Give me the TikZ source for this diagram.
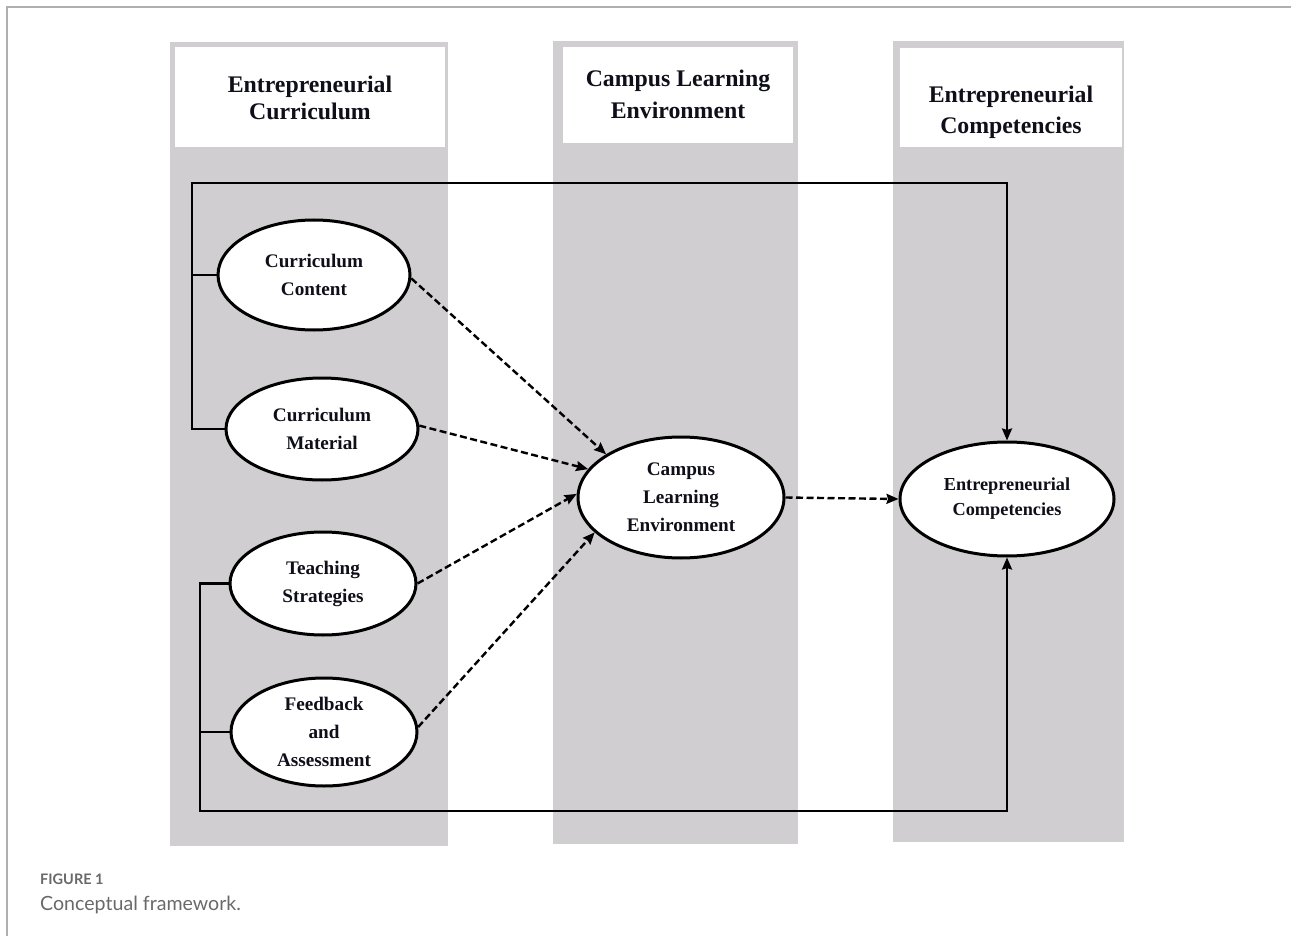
\documentclass[tikz,border=0pt]{standalone}
\usepackage{fontspec}
\setmainfont{Liberation Serif}
\newfontfamily\capfont{Lato}
\usetikzlibrary{shapes.geometric,arrows.meta}
\definecolor{colgray}{RGB}{208,206,208}
\definecolor{framegray}{RGB}{175,175,175}
\definecolor{capgray}{RGB}{105,105,105}
\definecolor{ink}{RGB}{15,15,25}
\tikzset{
  headtext/.style={text=ink, align=center, inner sep=0pt, font=\bfseries\fontsize{23.8}{#1}\selectfont},
  latent/.style={ellipse, draw=black, fill=white, line width=3pt, inner sep=0pt, text=ink, align=center},
  ltext/.style={font=\bfseries\fontsize{19.2}{28}\selectfont},
  solidlink/.style={draw=black, line width=2.2pt},
  solidarrow/.style={solidlink, -{Stealth[length=12pt,width=10pt,inset=1.5pt]}},
  dasharrow/.style={draw=black, line width=2.4pt, dash pattern=on 7pt off 3.5pt, -{Stealth[length=12pt,width=10pt,inset=1.5pt]}},
}
\begin{document}
\begin{tikzpicture}[x=1pt,y=-1pt]
\useasboundingbox (0,0) rectangle (1291,936);
% page frame
\draw[framegray, line width=1.3pt] (7,936) -- (7,7) -- (1291,7);
% columns
\fill[colgray] (170,42) rectangle (448,846);
\fill[white] (175,47) rectangle (445,147);
\fill[colgray] (553,41) rectangle (798,844);
\fill[white] (563,47) rectangle (793,143);
\fill[colgray] (893,41) rectangle (1124,842);
\fill[white] (900,48) rectangle (1122,147);
% headers
\node[headtext=27] (h1) at (310,97.5) {Entrepreneurial\\Curriculum};
\node[headtext=32] (h2) at (678,94.5) {Campus Learning\\Environment};
\node[headtext=31] (h3) at (1011,112) {Entrepreneurial\\Competencies};
% latent variables
\node[latent, ltext, minimum width=192pt, minimum height=110pt] (CC) at (314,275) {Curriculum\\Content};
\node[latent, ltext, minimum width=192pt, minimum height=102pt] (CM) at (322,429) {Curriculum\\Material};
\node[latent, ltext, minimum width=186pt, minimum height=103pt] (TS) at (323,583.5) {Teaching\\Strategies};
\node[latent, ltext, minimum width=186pt, minimum height=108pt] (FA) at (324,732) {Feedback\\and\\Assessment};
\node[latent, ltext, minimum width=206pt, minimum height=121pt] (CLE) at (681,497.5) {Campus\\Learning\\Environment};
\node[latent, font=\bfseries\fontsize{18.3}{25}\selectfont, minimum width=214pt, minimum height=114pt] (EC) at (1007,499) {Entrepreneurial\\Competencies};
% bracket connectors
\coordinate (tl) at (192,183);
\coordinate (bl) at (200,811);
\draw[solidlink] (CC.west) -- (CC.west -| tl);
\draw[solidarrow] (CM.west) -| (tl) -| (EC.north);
\draw[solidlink] (FA.west) -- (FA.west -| bl);
\draw[solidarrow] (TS.west) -| (bl) -| (EC.south);
% dashed paths
\draw[dasharrow] (CC.-2) -- (CLE.150);
\draw[dasharrow] (CM.2) -- (CLE.163);
\draw[dasharrow] (TS.east) -- (CLE.178);
\draw[dasharrow] (FA.3) -- (CLE.202);
\draw[dasharrow] (CLE.east) -- (EC.west);
% caption
\node[anchor=base west, inner sep=0pt, text=capgray, font=\capfont\bfseries\fontsize{14.5}{16}\selectfont] (figlab) at (40,884) {FIGURE 1};
\node[anchor=base west, inner sep=0pt, text=capgray, font=\capfont\fontsize{19.6}{22}\selectfont] (figcap) at (40,910) {Conceptual framework.};
\end{tikzpicture}
\end{document}
